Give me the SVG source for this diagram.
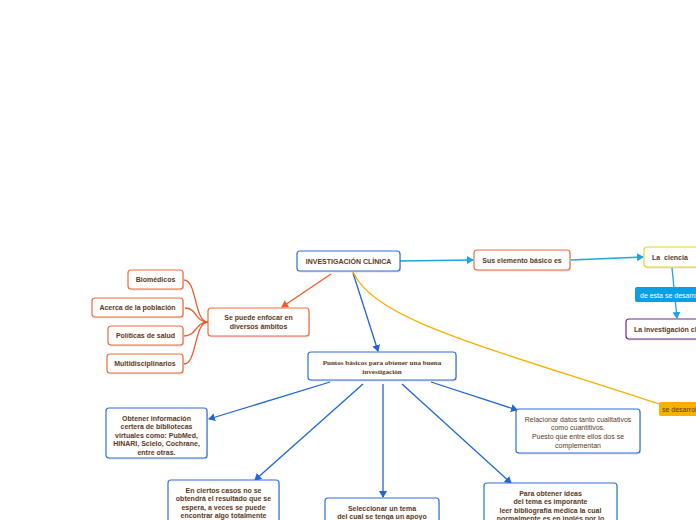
<svg xmlns="http://www.w3.org/2000/svg" width="696" height="520" viewBox="0 0 696 520">
<defs>
<style>
.box{fill:#fff;stroke-width:1.2}
.sh{fill:#000;opacity:0.12}
.t{font-family:"Liberation Sans",Arial,sans-serif;font-size:7px;font-weight:bold;fill:#5a3a1c;text-anchor:middle}
.tl{font-family:"Liberation Sans",Arial,sans-serif;font-size:7px;font-weight:bold;fill:#5a3a1c;text-anchor:start}
.tn{font-family:"Liberation Sans",Arial,sans-serif;font-size:7px;fill:#5a3a1c;text-anchor:middle}
.ts{font-family:"Liberation Serif","Times New Roman",serif;font-size:7.1px;font-weight:bold;fill:#5a3a1c;text-anchor:middle}
.blue{stroke:#2f6fd8}
.org{stroke:#f26a3e}
.c{fill:none;stroke-width:1.3}
</style>
<marker id="ab" markerWidth="8" markerHeight="8" refX="6" refY="4" orient="auto" markerUnits="userSpaceOnUse"><path d="M0,0 L7,4 L0,8 Z" fill="#1f66d6"/></marker>
<marker id="al" markerWidth="8" markerHeight="8" refX="6" refY="4" orient="auto" markerUnits="userSpaceOnUse"><path d="M0,0 L7,4 L0,8 Z" fill="#1ea4e4"/></marker>
<marker id="ao" markerWidth="8" markerHeight="8" refX="6" refY="4" orient="auto" markerUnits="userSpaceOnUse"><path d="M0,0 L7,4 L0,8 Z" fill="#f25a2a"/></marker>
</defs>
<g id="connectors">
<line class="c" x1="400" y1="261" x2="473" y2="260" stroke="#1ea4e4" marker-end="url(#al)"/>
<line class="c" x1="571" y1="260" x2="643" y2="257" stroke="#1ea4e4" marker-end="url(#al)"/>
<line class="c" x1="672" y1="268" x2="677" y2="318" stroke="#1ea4e4" marker-end="url(#al)"/>
<line class="c" x1="331" y1="274" x2="282" y2="307" stroke="#f25a2a" marker-end="url(#ao)"/>
<line class="c" x1="353" y1="273" x2="378" y2="351" stroke="#1f66d6" marker-end="url(#ab)"/>
<path class="c" d="M353,272 C375,320 480,345 662,405" stroke="#f8b000"/>
<path class="c" d="M184,280 C197,280 194,322 208,322" stroke="#f25a2a"/>
<path class="c" d="M185,308 C197,308 195,322 208,322" stroke="#f25a2a"/>
<path class="c" d="M184,336 C197,336 195,322 208,322" stroke="#f25a2a"/>
<path class="c" d="M184,364 C197,364 194,322 208,322" stroke="#f25a2a"/>
<line class="c" x1="330" y1="382" x2="209" y2="419" stroke="#1f66d6" marker-end="url(#ab)"/>
<line class="c" x1="363" y1="384" x2="255" y2="480" stroke="#1f66d6" marker-end="url(#ab)"/>
<line class="c" x1="383" y1="384" x2="383" y2="497" stroke="#1f66d6" marker-end="url(#ab)"/>
<line class="c" x1="402" y1="384" x2="511" y2="483" stroke="#1f66d6" marker-end="url(#ab)"/>
<line class="c" x1="431" y1="382" x2="517" y2="410" stroke="#1f66d6" marker-end="url(#ab)"/>
<rect x="635" y="287" width="75" height="15" rx="2" fill="#0aa0e6"/>
<text x="640" y="297.5" font-family="Liberation Sans,Arial,sans-serif" font-size="7" fill="#ffffff">de esta se desarrolla</text>
<rect x="659" y="402" width="55" height="14" rx="2" fill="#f8b000"/>
<text x="662" y="411.5" font-family="Liberation Sans,Arial,sans-serif" font-size="7" fill="#5a3a1c">se desarrolla</text>
</g>
<g id="n-inv">
<rect class="sh" x="298" y="252.5" width="103" height="20" rx="3"/>
<rect class="box blue" x="297" y="251" width="103" height="20" rx="3"/>
<text class="t" x="348.5" y="263.5">INVESTIGACIÓN CLÍNICA</text>
</g>
<g id="n-sus">
<rect class="sh" x="475" y="251.5" width="96" height="20" rx="3"/>
<rect class="box org" x="474" y="250" width="96" height="20" rx="3"/>
<text class="t" x="522" y="262.5">Sus elemento básico es</text>
</g>
<g id="n-ciencia">
<rect class="sh" x="645" y="248.5" width="60" height="20" rx="3"/>
<rect class="box" stroke="#e8d22c" x="644" y="247" width="60" height="20" rx="3"/>
<text class="tl" x="652" y="259.5" xml:space="preserve">La  ciencia</text>
</g>
<g id="n-invcl">
<rect class="sh" x="627" y="320.5" width="100" height="20" rx="3"/>
<rect class="box" stroke="#6b2a86" x="626" y="319" width="100" height="20" rx="3"/>
<text class="tl" x="634" y="331.5">La investigación clínica</text>
</g>
<g id="n-enfocar">
<rect class="sh" x="209" y="309.5" width="101" height="28" rx="3"/>
<rect class="box org" x="208" y="308" width="101" height="28" rx="3"/>
<text class="t" x="258.5" y="320">Se puede enfocar en</text>
<text class="t" x="258.5" y="329">diversos ámbitos</text>
</g>
<g id="n-bio">
<rect class="sh" x="129" y="271.5" width="55" height="19" rx="3"/>
<rect class="box org" x="128" y="270" width="55" height="19" rx="3"/>
<text class="t" x="155.5" y="282">Biomédicos</text>
</g>
<g id="n-pob">
<rect class="sh" x="93" y="299.5" width="91" height="19" rx="3"/>
<rect class="box org" x="92" y="298" width="91" height="19" rx="3"/>
<text class="t" x="137.5" y="310">Acerca de la población</text>
</g>
<g id="n-pol">
<rect class="sh" x="109" y="327.5" width="75" height="19" rx="3"/>
<rect class="box org" x="108" y="326" width="75" height="19" rx="3"/>
<text class="t" x="145.5" y="338">Políticas de salud</text>
</g>
<g id="n-multi">
<rect class="sh" x="108" y="355.5" width="76" height="19" rx="3"/>
<rect class="box org" x="107" y="354" width="76" height="19" rx="3"/>
<text class="t" x="145" y="366">Multidisciplinarios</text>
</g>
<g id="n-puntos">
<rect class="sh" x="309" y="353.5" width="148" height="28" rx="3"/>
<rect class="box blue" x="308" y="352" width="148" height="28" rx="3"/>
<text class="ts" x="382" y="365">Puntos básicos para obtener una buena</text>
<text class="ts" x="382" y="374">investigación</text>
</g>
<g id="n-obtener">
<rect class="sh" x="107" y="409.5" width="101" height="50" rx="3"/>
<rect class="box blue" x="106" y="408" width="101" height="50" rx="3"/>
<text class="t" x="156.5" y="420.5">Obtener información</text>
<text class="t" x="156.5" y="429">certera de bibliotecas</text>
<text class="t" x="156.5" y="437.5">virtuales como: PubMed,</text>
<text class="t" x="156.5" y="446">HINARI, Scielo, Cochrane,</text>
<text class="t" x="156.5" y="454.5">entre otras.</text>
</g>
<g id="n-relacionar">
<rect class="sh" x="517" y="410.5" width="124" height="44" rx="3"/>
<rect class="box blue" x="516" y="409" width="124" height="44" rx="3"/>
<text class="tn" x="578" y="421.5">Relacionar datos tanto cualitativos</text>
<text class="tn" x="578" y="430">como cuantitivos.</text>
<text class="tn" x="578" y="439">Puesto que entre ellos dos se</text>
<text class="tn" x="578" y="447.5">complementan</text>
</g>
<g id="n-casos">
<rect class="sh" x="169" y="481.5" width="111" height="50" rx="3"/>
<rect class="box blue" x="168" y="480" width="111" height="50" rx="3"/>
<text class="t" x="223.5" y="492.5">En ciertos casos no se</text>
<text class="t" x="223.5" y="501">obtendrá el resultado que se</text>
<text class="t" x="223.5" y="509.5">espera, a veces se puede</text>
<text class="t" x="223.5" y="518">encontrar algo totalmente</text>
</g>
<g id="n-tema">
<rect class="sh" x="326" y="499.5" width="114" height="40" rx="3"/>
<rect class="box blue" x="325" y="498" width="114" height="40" rx="3"/>
<text class="t" x="382" y="510.5">Seleccionar un tema</text>
<text class="t" x="382" y="519">del cual se tenga un apoyo</text>
</g>
<g id="n-ideas">
<rect class="sh" x="485" y="484.5" width="133" height="50" rx="3"/>
<rect class="box blue" x="484" y="483" width="133" height="50" rx="3"/>
<text class="t" x="550.5" y="495.5">Para obtener ideas</text>
<text class="t" x="550.5" y="504">del tema es imporante</text>
<text class="t" x="550.5" y="512.5">leer bibliografía médica la cual</text>
<text class="t" x="550.5" y="521">normalmente es en inglés por lo</text>
</g>
</svg>
